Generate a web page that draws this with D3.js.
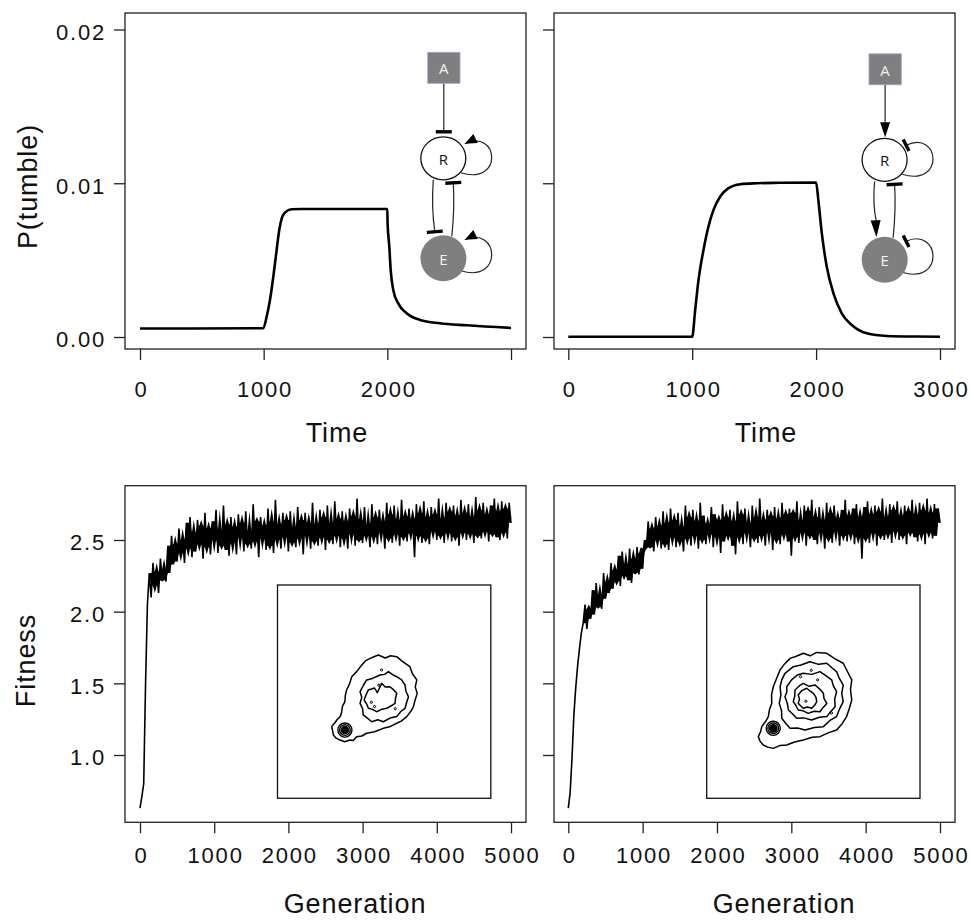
<!DOCTYPE html>
<html>
<head>
<meta charset="utf-8">
<script src="https://cdn.jsdelivr.net/npm/d3@7"></script>
<style>
  body { margin: 0; background: #fff; }
  svg { display: block; }
</style>
</head>
<body>
<svg id="fig" width="970" height="921"></svg>
<script>
// ---------- data ----------
const timeTicks = [0, 1000, 2000, 3000];
const genTicks = [0, 1000, 2000, 3000, 4000, 5000];
const probTicks = [0, 0.01, 0.02];
const fitTicks = [1.0, 1.5, 2.0, 2.5];

// tumbling probability response, network with repressive input
const timeA = [0, 997, 1024, 1051, 1078, 1105, 1126, 1146, 1172, 1226, 1300, 2000, 2002, 2016, 2027, 2048, 2088, 2156, 2264, 2425, 2640, 3000];
const probA = [0.00055, 0.00057, 0.00132, 0.00241, 0.00392, 0.00566, 0.00696, 0.00772, 0.00809, 0.00831, 0.00833, 0.00833, 0.0074, 0.00588, 0.00436, 0.00306, 0.00219, 0.00154, 0.00111, 0.00089, 0.00076, 0.00059];

// tumbling probability response, network with activating input
const timeB = [0, 1000, 1024, 1051, 1091, 1131, 1172, 1226, 1293, 1387, 1522, 1700, 2000, 2018, 2046, 2086, 2140, 2207, 2288, 2409, 2570, 2800, 3000];
const probB = [0.00002, 0.00002, 0.00175, 0.00371, 0.00566, 0.00718, 0.00827, 0.00914, 0.00968, 0.00994, 0.01000, 0.01003, 0.01005, 0.00891, 0.00675, 0.00457, 0.00284, 0.00154, 0.00078, 0.00024, 0.00007, 0.00003, 0.00002];

// mean population fitness, sampled every genStep generations
const genStep = 25;
const fitnessA = [
  0.63, 0.71, 0.80, 1.50, 2.05,
  2.27, 2.10, 2.34, 2.18, 2.28, 2.13, 2.37, 2.22, 2.30, 2.21, 2.46, 2.27, 2.53, 2.33, 2.47,
  2.35, 2.58, 2.41, 2.50, 2.34, 2.62, 2.44, 2.66, 2.38, 2.55, 2.42, 2.64, 2.47, 2.60, 2.37,
  2.69, 2.45, 2.58, 2.40, 2.63, 2.50, 2.71, 2.41, 2.57, 2.46, 2.74, 2.43, 2.61, 2.39, 2.66,
  2.48, 2.59, 2.40, 2.68, 2.52, 2.62, 2.42, 2.70, 2.47, 2.56, 2.44, 2.75, 2.49, 2.63, 2.38,
  2.66, 2.51, 2.60, 2.43, 2.72, 2.46, 2.63, 2.41, 2.78, 2.50, 2.61, 2.44, 2.69, 2.52, 2.64,
  2.42, 2.70, 2.48, 2.59, 2.45, 2.73, 2.51, 2.64, 2.40, 2.69, 2.53, 2.62, 2.44, 2.76, 2.49,
  2.61, 2.46, 2.71, 2.52, 2.66, 2.43, 2.74, 2.50, 2.62, 2.47, 2.77, 2.53, 2.65, 2.45, 2.70,
  2.51, 2.63, 2.44, 2.72, 2.54, 2.67, 2.46, 2.79, 2.50, 2.64, 2.48, 2.73, 2.53, 2.61, 2.45,
  2.75, 2.52, 2.66, 2.47, 2.71, 2.55, 2.63, 2.44, 2.76, 2.51, 2.68, 2.48, 2.74, 2.54, 2.64,
  2.46, 2.78, 2.52, 2.67, 2.49, 2.72, 2.55, 2.65, 2.38, 2.75, 2.53, 2.69, 2.48, 2.77, 2.51,
  2.66, 2.47, 2.73, 2.56, 2.68, 2.50, 2.79, 2.53, 2.65, 2.48, 2.76, 2.55, 2.70, 2.49, 2.74,
  2.52, 2.67, 2.46, 2.78, 2.55, 2.69, 2.50, 2.75, 2.54, 2.66, 2.48, 2.80, 2.53, 2.71, 2.51,
  2.76, 2.56, 2.68, 2.49, 2.74, 2.54, 2.79, 2.52, 2.70, 2.50, 2.77, 2.55, 2.72, 2.51, 2.76,
  2.62
];
const fitnessB = [
  0.63, 0.74, 0.98, 1.28, 1.47, 1.62, 1.74, 1.85,
  1.92, 2.05, 1.88, 2.02, 1.95, 2.15, 1.98, 2.20, 2.03, 2.12, 2.02, 2.27, 2.09, 2.21, 2.13,
  2.34, 2.16, 2.29, 2.21, 2.39, 2.18, 2.42, 2.25, 2.33, 2.22, 2.44, 2.20, 2.37, 2.27, 2.45,
  2.26, 2.41, 2.30, 2.50, 2.44, 2.63, 2.45, 2.58, 2.42, 2.66, 2.50, 2.60, 2.44, 2.70, 2.47,
  2.62, 2.43, 2.72, 2.52, 2.64, 2.45, 2.69, 2.49, 2.59, 2.42, 2.74, 2.51, 2.66, 2.46, 2.71,
  2.53, 2.63, 2.44, 2.76, 2.50, 2.67, 2.47, 2.61, 2.54, 2.73, 2.45, 2.68, 2.52, 2.64, 2.41,
  2.75, 2.49, 2.66, 2.53, 2.71, 2.46, 2.63, 2.40, 2.77, 2.52, 2.68, 2.47, 2.72, 2.55, 2.62,
  2.45, 2.74, 2.51, 2.66, 2.48, 2.79, 2.53, 2.64, 2.46, 2.71, 2.55, 2.67, 2.43, 2.73, 2.50,
  2.65, 2.47, 2.76, 2.54, 2.68, 2.49, 2.72, 2.39, 2.69, 2.52, 2.77, 2.48, 2.63, 2.55, 2.74,
  2.46, 2.70, 2.53, 2.78, 2.50, 2.66, 2.47, 2.73, 2.55, 2.64, 2.44, 2.76, 2.51, 2.69, 2.48,
  2.74, 2.56, 2.65, 2.46, 2.71, 2.53, 2.78, 2.49, 2.67, 2.54, 2.72, 2.47, 2.75, 2.52, 2.66,
  2.37, 2.73, 2.51, 2.77, 2.48, 2.68, 2.55, 2.74, 2.46, 2.70, 2.53, 2.79, 2.50, 2.66, 2.54,
  2.75, 2.48, 2.71, 2.56, 2.77, 2.50, 2.67, 2.53, 2.74, 2.47, 2.70, 2.55, 2.78, 2.52, 2.68,
  2.49, 2.76, 2.54, 2.71, 2.47, 2.79, 2.55, 2.69, 2.51, 2.75, 2.53, 2.72,
  2.62
];
// generation index where the fluctuating plateau phase begins
const noiseStartA = 5;
const noiseStartB = 8;

// genotype density contours (inset units 0-100)
const contoursA = [
  [[47.3,32.8],[50.5,34.2],[53,33.2],[55.9,33.6],[58.5,35.8],[62.1,38.3],[63.2,41.5],[65.3,44.5],[64.6,47.8],[65.5,50.8],[64.5,54],[63.7,57.1],[62.5,59.2],[60.6,61.7],[58,63.8],[55.9,64.8],[52.5,66.5],[49.6,67.2],[45.5,68.8],[41.8,69.5],[39.5,70.8],[37.1,71.1],[35.5,72.9],[34.0,72.7],[31.5,73.5],[29.3,72.7],[27.5,71.8],[26.2,70.3],[25.8,68.2],[25.4,66.4],[26.9,64.6],[27.8,63.3],[29.5,61.5],[30.1,59.4],[30.4,57],[31.6,54.7],[31.8,51.8],[32.4,49.2],[33.9,46],[34.8,43.0],[37.2,40.5],[39.5,37.5],[41.2,35.6],[43.4,34.4],[45.5,33.5]],
  [[41.8,44.5],[44.5,43.8],[48.1,42.2],[50.2,41.9],[52.0,40.6],[54.3,42.2],[55.9,43.0],[58.2,44.5],[59.8,46.9],[60.2,49.8],[61.4,52.4],[60.5,55.2],[59.8,57.8],[57.8,59.3],[55.9,61.7],[52.8,62.4],[49.6,64.1],[47.0,63.2],[44.2,64.1],[42.0,62.3],[40.2,60.9],[39.9,58.0],[38.7,55.5],[39.5,52.6],[38.7,50.0],[40.3,47.0]],
  [[42.6,49.2],[45.5,48.3],[46.8,50.5],[48.8,46.1],[50.5,47.8],[52.7,47.7],[54.5,49.2],[55.9,50.8],[55.3,53.2],[55.1,55.5],[53.5,56.5],[51.2,57.8],[49.0,58.2],[46.5,59.4],[44.5,58.3],[42.6,57.8],[41.8,55.8],[40.6,53.9],[41.5,51.5]]
];
const contoursB = [
  [[45.3,32.0],[48.5,33.2],[51.5,31.6],[56.3,32.0],[60.0,34.5],[64.0,36.7],[65.8,40.2],[68.0,44.5],[67.4,49.0],[68.0,53.9],[66.9,57.8],[65.6,61.7],[63.5,65.0],[60.9,68.0],[57.2,69.2],[53.1,71.1],[49.5,71.4],[45.3,72.7],[41.2,73.6],[37.5,75.0],[34.5,75.2],[31.2,76.6],[28.6,76.0],[26.5,75.0],[25.0,73.2],[24.2,71.1],[25.3,68.7],[25.8,66.4],[27.6,64.0],[28.9,61.7],[29.4,58.5],[30.5,55.5],[30.4,51.5],[31.2,47.7],[32.9,43.5],[34.4,39.8],[36.5,37.0],[39.1,34.4],[42.0,33.4]],
  [[40.6,38.3],[44.2,37.5],[48.4,36.0],[52.5,37.2],[56.3,36.7],[58.8,38.9],[60.9,40.6],[62.2,43.8],[64.0,46.9],[63.3,50.8],[64.0,54.7],[62.2,58.3],[60.9,61.7],[57.8,63.5],[54.7,66.4],[50.5,66.8],[46.1,68.0],[42.5,67.0],[39.1,67.2],[37.0,64.8],[35.2,62.5],[35.1,59.0],[34.0,55.5],[34.8,51.5],[34.4,47.7],[35.2,44.5],[36.7,41.4]],
  [[39.8,44.5],[42.5,42.2],[45.3,41.4],[49.3,41.9],[53.1,40.6],[56.0,42.6],[58.6,44.5],[59.4,47.3],[60.9,50.0],[60.0,53.5],[60.2,57.1],[58.0,59.5],[56.3,61.7],[52.8,62.0],[49.2,63.3],[45.5,62.3],[42.2,62.5],[40.3,60.5],[38.3,58.6],[37.8,55.5],[36.7,52.4],[37.6,50.0],[37.5,47.7]],
  [[41.4,49.2],[43.5,47.2],[45.3,46.1],[48.0,47.5],[50.8,46.9],[53.0,48.8],[54.7,50.8],[55.0,53.2],[56.3,55.5],[54.5,57.5],[53.1,59.4],[50.4,59.2],[47.6,60.2],[45.2,59.0],[42.9,58.6],[41.9,56.6],[40.6,54.7],[41.3,52.0]],
  [[42.9,51.6],[44.6,49.5],[46.9,48.4],[48.6,49.8],[50.0,50.8],[51.2,52.6],[51.6,54.7],[50.6,56.4],[49.2,57.8],[47.2,57.2],[45.3,57.8],[44.0,56.6],[42.9,55.5],[43.5,53.5]]
];
// sharp peak at the ancestral genotype and isolated density specks
const peakA = [31.6, 68.0];
const peakB = [31.2, 67.2];
const peakRadii = [3.3, 2.5, 1.7];
const specksA = [[48.8,39.8],[44.0,55.0],[45.5,57.0],[55.2,58.0],[47.5,47.0]];
const specksB = [[44.0,43.0],[52.0,44.5],[46.5,54.5],[58.5,60.0],[49.0,40.0]];

// ---------- layout ----------
const svg = d3.select("#fig");
const FONT = "'Liberation Sans', Arial, sans-serif";
const boxStroke = "#222";

const panels = {
  tl: { box: [125, 13, 526, 349], xr: [140, 511], yr: [337, 29.5] },
  tr: { box: [554, 13, 955, 349], xr: [568.3, 940], yr: [337, 29.5] },
  bl: { box: [125, 485.7, 526, 822.3], xr: [140, 511], yr: [755, 540] },
  br: { box: [554, 485.7, 955, 822.3], xr: [568.3, 940], yr: [755, 540] }
};

function drawFrame(p, xScale, yScale, xTicks, yTicks, opts) {
  const [x0, y0, x1, y1] = p.box;
  const xAxis = d3.axisBottom(xScale).tickValues(xTicks).tickSize(11)
    .tickPadding(opts.xPad).tickFormat(opts.xFmt);
  const gx = svg.append("g").attr("transform", `translate(0,${y1})`).call(xAxis);
  const yAxis = d3.axisLeft(yScale).tickValues(yTicks).tickSize(11)
    .tickPadding(8).tickFormat(opts.yFmt);
  const gy = svg.append("g").attr("transform", `translate(${x0},0)`).call(yAxis);
  [gx, gy].forEach(g => {
    g.select(".domain").remove();
    g.selectAll(".tick line").attr("stroke", boxStroke).attr("stroke-width", 1.3);
    g.selectAll(".tick text")
      .attr("fill", "#111")
      .style("font-family", FONT)
      .style("font-size", "22px")
      .style("letter-spacing", "1.8px");
  });
  gx.selectAll(".tick text").attr("dx", "0.9");
  gy.selectAll(".tick text").attr("dy", "0.45em");
  svg.append("rect")
    .attr("x", x0).attr("y", y0).attr("width", x1 - x0).attr("height", y1 - y0)
    .attr("fill", "none").attr("stroke", boxStroke).attr("stroke-width", 1.3);
}

const fmtProb = d3.format(".2f");
const fmtFit = d3.format(".1f");
const none = () => "";

// ---------- top row: P(tumble) vs Time ----------
const xTL = d3.scaleLinear().domain([0, 3000]).range(panels.tl.xr);
const xTR = d3.scaleLinear().domain([0, 3000]).range(panels.tr.xr);
const yTop = d3.scaleLinear().domain([0, 0.02]).range(panels.tl.yr);

drawFrame(panels.tl, xTL, yTop, timeTicks, probTicks,
  { xPad: 21, xFmt: d => (d === 3000 ? "" : d), yFmt: fmtProb });
drawFrame(panels.tr, xTR, yTop, timeTicks, probTicks,
  { xPad: 21, xFmt: d => d, yFmt: none });

function drawResponse(xs, ts, ps) {
  const line = d3.line()
    .x((d, i) => xs(ts[i]))
    .y(d => yTop(d))
    .curve(d3.curveMonotoneX);
  svg.append("path").datum(ps).attr("d", line)
    .attr("fill", "none").attr("stroke", "#000").attr("stroke-width", 2.6)
    .attr("stroke-linejoin", "round");
}
drawResponse(xTL, timeA, probA);
drawResponse(xTR, timeB, probB);

// ---------- bottom row: Fitness vs Generation ----------
const xBL = d3.scaleLinear().domain([0, 5000]).range(panels.bl.xr);
const xBR = d3.scaleLinear().domain([0, 5000]).range(panels.br.xr);
const yBot = d3.scaleLinear().domain([1.0, 2.5]).range(panels.bl.yr);

drawFrame(panels.bl, xBL, yBot, genTicks, fitTicks,
  { xPad: 14, xFmt: d => d, yFmt: fmtFit });
drawFrame(panels.br, xBR, yBot, genTicks, fitTicks,
  { xPad: 14, xFmt: d => d, yFmt: none });

// dense noisy trace: the inner range of each 5-sample neighbourhood is inked
// solid, and the trace itself on top supplies the thin outlying spikes
function drawFitness(xs, vals, start) {
  const inner = i => {
    const w = vals.slice(Math.max(start, i - 2), i + 3).sort(d3.ascending);
    return w.length >= 3 ? [w[1], w[w.length - 2]] : [w[0], w[w.length - 1]];
  };
  const band = d3.area()
    .defined((d, i) => i >= start)
    .x((d, i) => xs(i * genStep))
    .y0((d, i) => yBot(inner(i)[0]))
    .y1((d, i) => yBot(inner(i)[1]));
  svg.append("path").datum(vals).attr("d", band).attr("fill", "#000");
  const line = d3.line().x((d, i) => xs(i * genStep)).y(d => yBot(d));
  svg.append("path").datum(vals).attr("d", line)
    .attr("fill", "none").attr("stroke", "#000").attr("stroke-width", 1.6)
    .attr("stroke-linejoin", "bevel");
}
drawFitness(xBL, fitnessA, noiseStartA);
drawFitness(xBR, fitnessB, noiseStartB);

// ---------- density insets ----------
function drawInset(x0, rings, peak, specks) {
  const ix = d3.scaleLinear().domain([0, 100]).range([x0, x0 + 213.3]);
  const iy = d3.scaleLinear().domain([0, 100]).range([585, 798.3]);
  const g = svg.append("g");
  g.append("rect").attr("x", ix(0)).attr("y", iy(0))
    .attr("width", ix(100) - ix(0)).attr("height", iy(100) - iy(0))
    .attr("fill", "#fff").attr("stroke", "#111").attr("stroke-width", 1.3);
  const ring = d3.line().x(d => ix(d[0])).y(d => iy(d[1])).curve(d3.curveLinearClosed);
  g.selectAll("path.ring").data(rings).join("path").attr("class", "ring")
    .attr("d", ring).attr("fill", "none").attr("stroke", "#000").attr("stroke-width", 1.5)
    .attr("stroke-linejoin", "round");
  const k = ix(1) - ix(0);
  g.selectAll("circle.peak").data(peakRadii).join("circle").attr("class", "peak")
    .attr("cx", ix(peak[0])).attr("cy", iy(peak[1])).attr("r", r => r * k)
    .attr("fill", (r, i) => (i === peakRadii.length - 1 ? "#000" : "none"))
    .attr("stroke", "#000").attr("stroke-width", 1.4);
  g.selectAll("circle.speck").data(specks).join("circle").attr("class", "speck")
    .attr("cx", d => ix(d[0])).attr("cy", d => iy(d[1])).attr("r", 1.1)
    .attr("fill", "none").attr("stroke", "#000").attr("stroke-width", 1);
}
drawInset(277.5, contoursA, peakA, specksA);
drawInset(706.7, contoursB, peakB, specksB);

// ---------- network diagrams ----------
function head(g, tip, from, type, len, wid) {
  const dx = tip[0] - from[0], dy = tip[1] - from[1];
  const n = Math.hypot(dx, dy);
  const ux = dx / n, uy = dy / n, px = -uy, py = ux;
  if (type === "arrow") {
    const bx = tip[0] - ux * len, by = tip[1] - uy * len;
    g.append("path")
      .attr("d", `M${tip[0]},${tip[1]}L${bx + px * wid / 2},${by + py * wid / 2}L${bx - px * wid / 2},${by - py * wid / 2}Z`)
      .attr("fill", "#000");
  } else {
    g.append("line")
      .attr("x1", tip[0] + px * wid / 2).attr("y1", tip[1] + py * wid / 2)
      .attr("x2", tip[0] - px * wid / 2).attr("y2", tip[1] - py * wid / 2)
      .attr("stroke", "#000").attr("stroke-width", 3.4);
  }
}

function drawNetwork(ox, oy, kind) {
  const g = svg.append("g").attr("transform", `translate(${ox},${oy})`);
  const edge = { fill: "none", stroke: "#222", "stroke-width": 1.2 };
  const path = d => {
    const p = g.append("path").attr("d", d);
    Object.entries(edge).forEach(([k, v]) => p.attr(k, v));
  };
  const act = kind === "activating";

  // A -> R
  path(act ? "M0,15.5L0,53" : "M0,15.5L0,64");
  if (act) head(g, [0, 68], [0, 50], "arrow", 15, 10);
  else head(g, [0, 64], [0, 50], "bar", 0, 16);

  // R -> E
  path(act ? "M-10.5,112Q-12.5,135 -9,151" : "M-10.5,112Q-12.5,140 -9,164");
  if (act) head(g, [-8.7, 168], [-9.5, 150], "arrow", 17, 10);
  else head(g, [-9, 164], [-10.5, 145], "bar", 0, 16);

  // E -| R
  path("M8,168.5Q11,140 9.5,115");
  head(g, [9.5, 115], [10.5, 135], "bar", 0, 16);

  // self loops
  path("M21,76C55,60 60,118 17,105");
  head(g, [21, 76], [31, 71], act ? "bar" : "arrow", 12, act ? 13 : 10);
  path("M21,172C55,157 60,216 17,203");
  head(g, [21, 172], [31, 167], act ? "bar" : "arrow", 12, act ? 13 : 10);

  // nodes
  g.append("rect").attr("x", -16.1).attr("y", -15.5).attr("width", 32.3).attr("height", 31)
    .attr("fill", "#7f7f7f").attr("stroke", "#a4a4d6").attr("stroke-width", 0.8);
  g.append("ellipse").attr("cx", -0.5).attr("cy", 90.5).attr("rx", 22.5).attr("ry", 21.5)
    .attr("fill", "#fff").attr("stroke", "#111").attr("stroke-width", 1.3);
  g.append("circle").attr("cx", -0.4).attr("cy", 190.4).attr("r", 23)
    .attr("fill", "#7f7f7f");
  const lbl = (x, y, t, c) => g.append("text").attr("x", x).attr("y", y)
    .attr("text-anchor", "middle").attr("dominant-baseline", "central")
    .attr("fill", c).style("font-family", "'Open Sans', 'Noto Sans', sans-serif")
    .style("font-size", "15px").text(t);
  lbl(0, 0.5, "A", "#f2f2f2");
  lbl(-0.5, 91, "R", "#111");
  lbl(-0.4, 191, "E", "#f2f2f2");
}
drawNetwork(443.8, 67.8, "repressive");
drawNetwork(885.1, 69.3, "activating");

// ---------- axis titles ----------
const title = (x, y, t, rot) => {
  const el = svg.append("text").attr("text-anchor", "middle").attr("fill", "#111")
    .style("font-family", FONT).style("font-size", "27px").style("letter-spacing", "0.9px")
    .text(t);
  if (rot) el.attr("transform", `translate(${x},${y}) rotate(-90)`);
  else el.attr("x", x).attr("y", y);
};
title(337, 441.7, "Time");
title(766, 441.7, "Time");
title(355, 913, "Generation");
title(784, 913, "Generation");
title(37, 186.5, "P(tumble)", true);
title(35, 660.5, "Fitness", true);
</script>
</body>
</html>
